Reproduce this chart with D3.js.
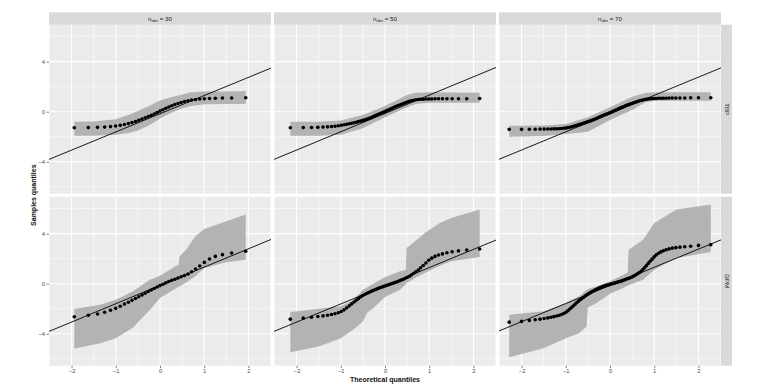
<!DOCTYPE html>
<html><head><meta charset="utf-8">
<script src="https://cdn.jsdelivr.net/npm/d3@7"></script>
<style>body{margin:0;background:#fff}svg{display:block;font-family:"Liberation Sans",Arial,sans-serif}</style>
</head><body><div id="chart"></div>
<script>
// ---- data ----
const columnLabels = ["30", "50", "70"];
const rowLabels = ["TBP", "DPM"];
const xTicks = [-2, -1, 0, 1, 2];
const yTicks = [-4, 0, 4];

const theo30 = [-1.938,-1.620,-1.412,-1.252,-1.119,-1.003,-0.899,-0.804,-0.716,-0.634,-0.555,-0.480,-0.407,-0.336,-0.267,-0.199,-0.132,-0.066,0,0.066,0.132,0.199,0.267,0.336,0.407,0.480,0.555,0.634,0.716,0.804,0.899,1.003,1.119,1.252,1.412,1.620,1.938];
const theo50 = [-2.141,-1.848,-1.661,-1.518,-1.401,-1.300,-1.211,-1.131,-1.057,-0.989,-0.925,-0.865,-0.807,-0.753,-0.700,-0.649,-0.600,-0.553,-0.506,-0.460,-0.416,-0.372,-0.329,-0.287,-0.245,-0.204,-0.163,-0.122,-0.081,-0.040,0,0.040,0.081,0.122,0.163,0.204,0.245,0.287,0.329,0.372,0.416,0.460,0.506,0.553,0.600,0.649,0.700,0.753,0.807,0.865,0.925,0.989,1.057,1.131,1.211,1.300,1.401,1.518,1.661,1.848,2.141];
const theo70 = [-2.279,-2.000,-1.824,-1.691,-1.582,-1.490,-1.408,-1.335,-1.269,-1.207,-1.150,-1.097,-1.046,-0.998,-0.952,-0.908,-0.866,-0.825,-0.786,-0.748,-0.711,-0.674,-0.639,-0.604,-0.571,-0.538,-0.505,-0.473,-0.441,-0.410,-0.379,-0.349,-0.319,-0.289,-0.259,-0.230,-0.201,-0.172,-0.143,-0.114,-0.086,-0.057,-0.028,0,0.028,0.057,0.086,0.114,0.143,0.172,0.201,0.230,0.259,0.289,0.319,0.349,0.379,0.410,0.441,0.473,0.505,0.538,0.571,0.604,0.639,0.674,0.711,0.748,0.786,0.825,0.866,0.908,0.952,0.998,1.046,1.097,1.150,1.207,1.269,1.335,1.408,1.490,1.582,1.691,1.824,2.000,2.279];

const tbp30 = [-1.28,-1.27,-1.25,-1.23,-1.19,-1.14,-1.09,-1.02,-0.95,-0.87,-0.79,-0.69,-0.59,-0.49,-0.39,-0.29,-0.18,-0.07,0.05,0.16,0.27,0.38,0.48,0.57,0.66,0.74,0.82,0.88,0.94,0.98,1.02,1.04,1.06,1.08,1.09,1.10,1.12];
const tbp50 = [-1.28,-1.27,-1.26,-1.25,-1.23,-1.21,-1.19,-1.16,-1.12,-1.08,-1.04,-1.00,-0.96,-0.92,-0.88,-0.84,-0.79,-0.75,-0.70,-0.65,-0.60,-0.54,-0.48,-0.42,-0.35,-0.29,-0.22,-0.16,-0.10,-0.05,0.02,0.09,0.15,0.22,0.28,0.35,0.41,0.48,0.54,0.60,0.66,0.72,0.78,0.83,0.88,0.92,0.95,0.97,0.99,1.00,1.01,1.02,1.02,1.03,1.03,1.03,1.03,1.04,1.04,1.04,1.05];
const tbp70 = [-1.41,-1.41,-1.40,-1.40,-1.39,-1.39,-1.38,-1.38,-1.37,-1.37,-1.36,-1.34,-1.32,-1.30,-1.27,-1.24,-1.20,-1.16,-1.12,-1.08,-1.05,-1.01,-0.97,-0.93,-0.89,-0.85,-0.81,-0.77,-0.73,-0.69,-0.64,-0.60,-0.56,-0.51,-0.46,-0.42,-0.37,-0.33,-0.28,-0.24,-0.20,-0.16,-0.12,-0.08,-0.04,0.01,0.06,0.10,0.15,0.20,0.24,0.29,0.33,0.38,0.42,0.47,0.51,0.56,0.60,0.64,0.68,0.72,0.76,0.80,0.84,0.87,0.91,0.94,0.97,0.99,1.01,1.03,1.04,1.05,1.06,1.07,1.07,1.08,1.08,1.09,1.09,1.10,1.10,1.10,1.11,1.11,1.12];
const dpm30 = [-2.64,-2.52,-2.42,-2.28,-2.12,-1.97,-1.80,-1.63,-1.48,-1.33,-1.18,-1.04,-0.90,-0.76,-0.62,-0.50,-0.38,-0.26,-0.15,-0.04,0.07,0.18,0.27,0.36,0.45,0.55,0.65,0.78,0.95,1.17,1.42,1.70,1.97,2.18,2.32,2.45,2.59];
const dpm50 = [-2.83,-2.75,-2.68,-2.62,-2.57,-2.52,-2.46,-2.40,-2.32,-2.22,-2.09,-1.93,-1.77,-1.61,-1.46,-1.32,-1.19,-1.06,-0.95,-0.86,-0.78,-0.71,-0.64,-0.57,-0.51,-0.45,-0.39,-0.33,-0.28,-0.23,-0.18,-0.13,-0.08,-0.03,0.02,0.07,0.12,0.17,0.23,0.29,0.36,0.43,0.51,0.60,0.71,0.83,0.96,1.10,1.27,1.45,1.65,1.87,2.04,2.18,2.29,2.38,2.47,2.55,2.62,2.69,2.77];
const dpm70 = [-3.07,-3.01,-2.94,-2.88,-2.83,-2.78,-2.73,-2.68,-2.63,-2.58,-2.52,-2.46,-2.38,-2.29,-2.16,-2.02,-1.89,-1.76,-1.63,-1.50,-1.39,-1.29,-1.19,-1.10,-1.01,-0.93,-0.85,-0.78,-0.71,-0.65,-0.59,-0.53,-0.48,-0.42,-0.37,-0.33,-0.29,-0.25,-0.21,-0.17,-0.14,-0.11,-0.08,-0.05,-0.02,0.01,0.04,0.07,0.10,0.13,0.16,0.19,0.22,0.26,0.29,0.33,0.37,0.41,0.45,0.50,0.55,0.61,0.68,0.75,0.83,0.92,1.02,1.15,1.30,1.46,1.62,1.79,1.96,2.14,2.30,2.43,2.54,2.63,2.71,2.78,2.84,2.88,2.92,2.95,2.99,3.06,3.12];

// confidence bands (knots)
const bandX_tbp30 = [-1.938,-1.5,-1.0,-0.7,-0.5,-0.25,0,0.25,0.5,0.7,1.0,1.5,1.938];
const bandHi_tbp30 = [-0.80,-0.78,-0.60,-0.25,0.05,0.45,0.90,1.15,1.38,1.55,1.62,1.62,1.65];
const bandLo_tbp30 = [-1.92,-1.92,-1.85,-1.70,-1.50,-1.10,-0.55,-0.10,0.25,0.45,0.60,0.62,0.62];
const bandX_tbp50 = [-2.141,-1.5,-1.0,-0.5,0,0.5,0.7,1.0,2.141];
const bandHi_tbp50 = [-0.80,-0.80,-0.70,-0.26,0.46,1.34,1.52,1.55,1.52];
const bandLo_tbp50 = [-1.92,-1.92,-1.85,-1.33,-0.45,0.35,0.62,0.72,0.72];
const bandX_tbp70 = [-2.279,-1.5,-1.0,-0.5,0,0.5,0.8,1.0,2.279];
const bandHi_tbp70 = [-1.12,-1.10,-0.98,-0.45,0.35,1.20,1.50,1.55,1.55];
const bandLo_tbp70 = [-2.00,-1.95,-1.78,-1.60,-0.66,0.14,0.75,0.88,0.88];
const bandX_dpm30 = [-1.938,-1.35,-1.0,-0.61,-0.23,0,0.37,0.42,0.44,0.59,0.8,1.0,1.5,1.938];
const bandHi_dpm30 = [-2.03,-1.68,-1.28,-0.61,0.32,0.64,1.44,1.50,2.19,2.72,3.79,4.37,4.99,5.52];
const bandLo_dpm30 = [-5.20,-4.75,-4.35,-3.50,-2.10,-1.15,-0.35,-0.25,-0.22,0.10,0.60,1.25,1.71,1.92];
const bandX_dpm50 = [-2.141,-1.5,-1.0,-0.72,-0.5,-0.41,-0.26,0,0.34,0.47,0.49,0.72,0.9,1.24,1.5,2.141];
const bandHi_dpm50 = [-2.27,-2.00,-1.81,-1.28,-0.48,-0.30,0,0.53,0.99,1.10,2.85,3.52,4.05,4.85,5.25,5.92];
const bandLo_dpm50 = [-5.47,-5.01,-4.35,-3.68,-3.01,-2.35,-1.95,-1.07,-0.48,-0.05,0.05,0.53,0.85,1.44,1.79,2.13];
const bandX_dpm70 = [-2.279,-1.5,-1.0,-0.7,-0.53,-0.5,-0.3,0,0.3,0.40,0.42,0.75,1.0,1.5,2.279];
const bandHi_dpm70 = [-2.48,-2.21,-1.55,-1.01,-0.50,-0.43,-0.20,0.19,0.72,0.90,2.72,3.52,4.85,5.92,6.32];
const bandLo_dpm70 = [-5.87,-5.15,-4.35,-3.95,-3.41,-1.90,-1.55,-0.80,-0.35,-0.15,-0.12,0.32,1.12,2.05,2.53];

// reference lines: [slope, intercept] per panel
const lineSlope = [[1.453, 1.463, 1.455], [1.463, 1.453, 1.449]];
const lineIntercept = [[-0.163, -0.138, -0.150], [-0.138, -0.163, -0.136]];

const theoByCol = [theo30, theo50, theo70];
const samples = [[tbp30, tbp50, tbp70], [dpm30, dpm50, dpm70]];
const bands = [
  [[bandX_tbp30, bandLo_tbp30, bandHi_tbp30], [bandX_tbp50, bandLo_tbp50, bandHi_tbp50], [bandX_tbp70, bandLo_tbp70, bandHi_tbp70]],
  [[bandX_dpm30, bandLo_dpm30, bandHi_dpm30], [bandX_dpm50, bandLo_dpm50, bandHi_dpm50], [bandX_dpm70, bandLo_dpm70, bandHi_dpm70]]
];

// ---- layout ----
const W = 763, H = 388;
const colX = [49, 274, 499], panelW = 222;
const rowY = [24.7, 196.7], panelH = 169;
const xDomain = [-2.51, 2.51], yDomain = [-6.55, 6.95];

const svg = d3.select("#chart").append("svg").attr("width", W).attr("height", H);
svg.append("rect").attr("width", W).attr("height", H).attr("fill", "#fff");

const xMinor = [-2.5, -1.5, -0.5, 0.5, 1.5, 2.5];
const yMinor = [-6, -2, 2, 6];

rowLabels.forEach((rl, r) => {
  columnLabels.forEach((cl, c) => {
    const x = d3.scaleLinear().domain(xDomain).range([colX[c], colX[c] + panelW]);
    const y = d3.scaleLinear().domain(yDomain).range([rowY[r] + panelH, rowY[r]]);
    const g = svg.append("g");
    const clipId = `clip${r}${c}`;
    svg.append("clipPath").attr("id", clipId).append("rect")
      .attr("x", colX[c]).attr("y", rowY[r]).attr("width", panelW).attr("height", panelH);
    g.append("rect").attr("x", colX[c]).attr("y", rowY[r]).attr("width", panelW).attr("height", panelH).attr("fill", "#EBEBEB");
    const grid = g.append("g").attr("clip-path", `url(#${clipId})`);
    grid.selectAll(".vmin").data(xMinor).join("line")
      .attr("x1", d => x(d)).attr("x2", d => x(d)).attr("y1", rowY[r]).attr("y2", rowY[r] + panelH)
      .attr("stroke", "#fff").attr("stroke-width", 0.55);
    grid.selectAll(".hmin").data(yMinor).join("line")
      .attr("y1", d => y(d)).attr("y2", d => y(d)).attr("x1", colX[c]).attr("x2", colX[c] + panelW)
      .attr("stroke", "#fff").attr("stroke-width", 0.55);
    grid.selectAll(".vmaj").data(xTicks).join("line")
      .attr("x1", d => x(d)).attr("x2", d => x(d)).attr("y1", rowY[r]).attr("y2", rowY[r] + panelH)
      .attr("stroke", "#fff").attr("stroke-width", 1.1);
    grid.selectAll(".hmaj").data(yTicks).join("line")
      .attr("y1", d => y(d)).attr("y2", d => y(d)).attr("x1", colX[c]).attr("x2", colX[c] + panelW)
      .attr("stroke", "#fff").attr("stroke-width", 1.1);

    const [bx, blo, bhi] = bands[r][c];
    const area = d3.area().x((d, i) => x(bx[i])).y0((d, i) => y(blo[i])).y1((d, i) => y(bhi[i]));
    grid.append("path").attr("d", area(bx)).attr("fill", "#B3B3B3");

    const xs = theoByCol[c], ys = samples[r][c];
    const pts = xs.map((v, i) => [v, ys[i]]);
    grid.selectAll("circle").data(pts).join("circle")
      .attr("cx", d => x(d[0])).attr("cy", d => y(d[1])).attr("r", 1.8).attr("fill", "#000");

    const s = lineSlope[r][c], b = lineIntercept[r][c];
    grid.append("line")
      .attr("x1", x(xDomain[0])).attr("y1", y(b + s * xDomain[0]))
      .attr("x2", x(xDomain[1])).attr("y2", y(b + s * xDomain[1]))
      .attr("stroke", "#000").attr("stroke-width", 0.9);

    // top strip
    if (r === 0) {
      svg.append("rect").attr("x", colX[c]).attr("y", 12.3).attr("width", panelW).attr("height", rowY[0] - 12.3).attr("fill", "#D9D9D9");
      const t = svg.append("text").attr("x", colX[c] + panelW / 2).attr("y", 20.8)
        .attr("text-anchor", "middle").attr("font-size", 6.2).attr("fill", "#1A1A1A");
      t.append("tspan").text("n");
      t.append("tspan").attr("font-size", 4).attr("dy", 1.2).text("obs");
      t.append("tspan").attr("dy", -1.2).text(" = " + cl);
    }
    // right strip
    if (c === 2) {
      svg.append("rect").attr("x", colX[2] + panelW).attr("y", rowY[r]).attr("width", 11).attr("height", panelH).attr("fill", "#D9D9D9");
      svg.append("text").attr("transform", `translate(${colX[2] + panelW + 3.5},${rowY[r] + panelH / 2}) rotate(90)`)
        .attr("text-anchor", "middle").attr("font-size", 6.2).attr("fill", "#1A1A1A").text(rl);
    }
    // y axis
    if (c === 0) {
      const ax = svg.append("g").attr("transform", `translate(${colX[0]},0)`)
        .call(d3.axisLeft(y).tickValues(yTicks).tickSize(2.5).tickFormat(d3.format("d")));
      ax.select(".domain").remove();
      ax.selectAll("line").attr("stroke", "#333").attr("stroke-width", 0.6);
      ax.selectAll("text").attr("font-size", 5.8).attr("fill", "#4D4D4D").attr("x", -4).attr("font-family", "Liberation Sans, Arial, sans-serif");
    }
    // x axis
    if (r === 1) {
      const ax = svg.append("g").attr("transform", `translate(0,${rowY[1] + panelH})`)
        .call(d3.axisBottom(x).tickValues(xTicks).tickSize(2.5).tickFormat(d3.format("d")));
      ax.select(".domain").remove();
      ax.selectAll("line").attr("stroke", "#333").attr("stroke-width", 0.6);
      ax.selectAll("text").attr("font-size", 5.8).attr("fill", "#4D4D4D").attr("y", 3.6).attr("font-family", "Liberation Sans, Arial, sans-serif");
    }
  });
});

svg.append("text").attr("x", (colX[0] + colX[2] + panelW) / 2).attr("y", 381.5)
  .attr("text-anchor", "middle").attr("font-size", 7).attr("font-weight", "bold").attr("fill", "#111")
  .text("Theoretical quantiles");
svg.append("text").attr("transform", `translate(36,${(rowY[0] + rowY[1] + panelH) / 2}) rotate(-90)`)
  .attr("text-anchor", "middle").attr("font-size", 7).attr("font-weight", "bold").attr("fill", "#111")
  .text("Samples quantiles");
</script></body></html>
